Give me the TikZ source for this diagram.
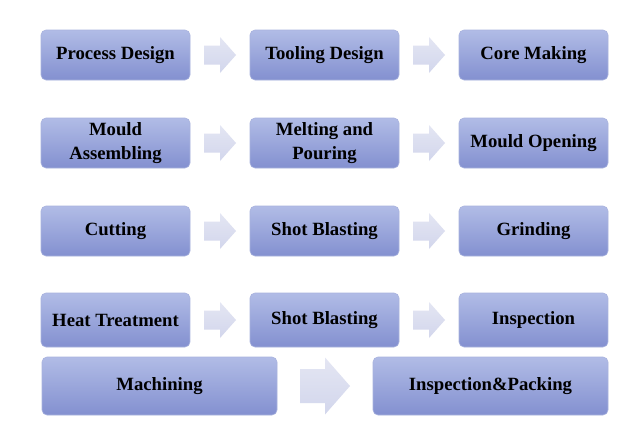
\documentclass[tikz,border=0pt]{standalone}
\usepackage{fontspec}
\setmainfont{Liberation Serif}
\usetikzlibrary{calc}
\definecolor{boxtop}{HTML}{B1BCE6}
\definecolor{boxbot}{HTML}{8390D0}
\definecolor{boxline}{HTML}{A9B3DE}
\definecolor{arrtop}{HTML}{E4E6F3}
\definecolor{arrbot}{HTML}{D2D6EC}
\begin{document}
\begin{tikzpicture}[x=1pt,y=-1pt,
  stepbox/.style={draw=boxline, line width=0.6pt, rounded corners=5pt,
    top color=boxtop, bottom color=boxbot, minimum height=50pt,
    minimum width=149pt, align=center, inner sep=2pt,
    font=\fontsize{18.7}{23.5}\selectfont\bfseries, text=black},
  arrfill/.style={draw=none, top color=arrtop, bottom color=arrbot},
  pics/blockarr/.style args={#1/#2/#3}{code={
    \path[arrfill] (-#1,-#2) -- (0,-#2) -- (0,-#3) -- (#1,0) -- (0,#3) -- (0,#2) -- (-#1,#2) -- cycle;
  }}]
\useasboundingbox (0,0) rectangle (640,434);
\fill[white] (0,0) rectangle (640,434);
% row 1
\node[stepbox] (a1) at (115.5,55) {Process Design};
\node[stepbox] (a2) at (324.5,55) {Tooling Design};
\node[stepbox] (a3) at (533.5,55) {Core Making};
% row 2
\node[stepbox] (b1) at (115.5,143) {Mould\\Assembling};
\node[stepbox] (b2) at (324.5,143) {Melting and\\Pouring};
\node[stepbox] (b3) at (533.5,143) {Mould Opening};
% row 3
\node[stepbox] (c1) at (115.5,231) {Cutting};
\node[stepbox] (c2) at (324.5,231) {Shot Blasting};
\node[stepbox] (c3) at (533.5,231) {Grinding};
% row 4
\node[stepbox, minimum height=54pt] (d1) at (115.5,320) {Heat Treatment};
\node[stepbox, minimum height=54pt] (d2) at (324.5,320) {Shot Blasting};
\node[stepbox, minimum height=54pt] (d3) at (533.5,320) {Inspection};
% row 5
\node[stepbox, minimum height=58pt, minimum width=235pt] (e1) at (159.5,386) {Machining};
\node[stepbox, minimum height=58pt, minimum width=235pt] (e2) at (490.5,386) {Inspection\&Packing};
% arrows
\foreach \l/\r in {a1/a2,a2/a3,b1/b2,b2/b3,c1/c2,c2/c3,d1/d2,d2/d3}{
  \coordinate (m-\l) at ($(\l.east)!0.5!(\r.west)$);
  \pic at (m-\l) {blockarr={16/9.5/18}};
}
\coordinate (m-e1) at ($(e1.east)!0.5!(e2.west)$);
\pic at (m-e1) {blockarr={25/17/28.5}};
\end{tikzpicture}
\end{document}
